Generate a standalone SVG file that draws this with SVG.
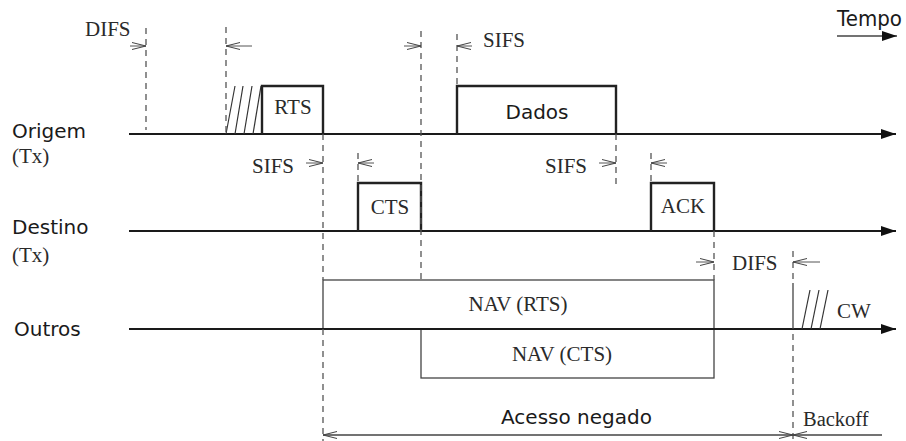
<svg xmlns="http://www.w3.org/2000/svg" width="906" height="441" viewBox="0 0 906 441">
  <defs>
    <style>
      .sans { font-family: "DejaVu Sans", "Liberation Sans", sans-serif; font-size: 20px; fill: #1a1a1a; }
      .serif { font-family: "Liberation Serif", "Times New Roman", serif; font-size: 21px; fill: #2a2a2a; }
      .mid { text-anchor: middle; }
      .axis { stroke: #1a1a1a; stroke-width: 2; fill: none; }
      .frame { stroke: #222; stroke-width: 2.4; fill: none; }
      .nav { stroke: #444; stroke-width: 1.3; fill: none; }
      .dash { stroke: #555; stroke-width: 1.3; stroke-dasharray: 6 5; fill: none; }
      .solid { stroke: #444; stroke-width: 1.3; fill: none; }
      .hatch { stroke: #333; stroke-width: 1.2; fill: none; }
      .gap { stroke: #555; stroke-width: 1; fill: none; }
    </style>
    <!-- filled head for the time axes -->
    <marker id="head" markerWidth="16" markerHeight="10" refX="15" refY="5" orient="auto" markerUnits="userSpaceOnUse">
      <path d="M0,0 L15,5 L0,10 z" fill="#111"/>
    </marker>
    <!-- open chevron for interval markers -->
    <marker id="chev" markerWidth="15" markerHeight="9" refX="14" refY="4.5" orient="auto-start-reverse" markerUnits="userSpaceOnUse">
      <path d="M0,1 L14,4.5 L0,8" fill="none" stroke="#444" stroke-width="1"/>
    </marker>
  </defs>

  <rect width="906" height="441" fill="#ffffff"/>

  <!-- time direction -->
  <g id="tempo">
    <text class="sans" x="837" y="26" style="font-size:21px" textLength="65" lengthAdjust="spacingAndGlyphs">Tempo</text>
    <line class="solid" x1="837" y1="36" x2="897" y2="36" stroke-width="1.5" marker-end="url(#head)"/>
  </g>

  <!-- station labels -->
  <g id="label-origem">
    <text class="sans" x="12" y="138">Origem</text>
    <text class="serif" x="12" y="163">(Tx)</text>
  </g>
  <g id="label-destino">
    <text class="sans" x="12" y="234">Destino</text>
    <text class="serif" x="12" y="262">(Tx)</text>
  </g>
  <g id="label-outros">
    <text class="sans" x="14" y="336">Outros</text>
  </g>

  <!-- NAV periods of the other stations -->
  <g id="nav-rts">
    <rect class="nav" x="323" y="280" width="391" height="49"/>
    <text class="serif mid" x="518" y="311">NAV (RTS)</text>
  </g>
  <g id="nav-cts">
    <rect class="nav" x="421" y="329" width="293" height="49"/>
    <text class="serif mid" x="562" y="361">NAV (CTS)</text>
  </g>

  <!-- time axes -->
  <g id="axes">
    <line class="axis" x1="129" y1="134" x2="896" y2="134" marker-end="url(#head)"/>
    <line class="axis" x1="129" y1="231" x2="896" y2="231" marker-end="url(#head)"/>
    <line class="axis" x1="129" y1="329" x2="896" y2="329" marker-end="url(#head)"/>
  </g>

  <!-- frames -->
  <g id="backoff-origem">
    <line class="hatch" x1="226" y1="134" x2="235" y2="86"/>
    <line class="hatch" x1="235" y1="134" x2="243" y2="86"/>
    <line class="hatch" x1="244" y1="134" x2="252" y2="86"/>
    <line class="hatch" x1="253" y1="134" x2="261" y2="86"/>
  </g>
  <g id="rts">
    <polyline class="frame" points="262,134 262,86 323,86 323,134"/>
    <text class="serif mid" x="293" y="114">RTS</text>
  </g>
  <g id="dados">
    <polyline class="frame" points="457,134 457,86 616,86 616,134"/>
    <text class="sans mid" x="537" y="119">Dados</text>
  </g>
  <g id="cts">
    <polyline class="frame" points="358,231 358,183 421,183 421,231"/>
    <text class="serif mid" x="390" y="214">CTS</text>
  </g>
  <g id="ack">
    <polyline class="frame" points="651,231 651,183 714,183 714,231"/>
    <text class="serif mid" x="683" y="213">ACK</text>
  </g>
  <g id="cw">
    <line class="hatch" x1="802" y1="329" x2="810" y2="290"/>
    <line class="hatch" x1="811" y1="329" x2="819" y2="290"/>
    <line class="hatch" x1="820" y1="329" x2="828" y2="290"/>
    <text class="serif" x="837" y="318">CW</text>
  </g>

  <!-- interval labels -->
  <g id="interval-labels">
    <text class="serif" x="85" y="36">DIFS</text>
    <text class="serif" x="483" y="47">SIFS</text>
    <text class="serif" x="252" y="173">SIFS</text>
    <text class="serif" x="545" y="173">SIFS</text>
    <text class="serif" x="732" y="270">DIFS</text>
    <text class="sans" x="501" y="424">Acesso negado</text>
    <text class="serif" x="803" y="426" style="font-size:20.5px">Backoff</text>
  </g>

  <!-- boundaries and interval markers -->
  <g id="connectors">
    <line class="dash" x1="146" y1="28" x2="146" y2="130"/>
    <line class="dash" x1="226" y1="27" x2="226" y2="134"/>
    <line class="dash" x1="323" y1="134" x2="323" y2="280"/>
    <line class="dash" x1="323" y1="329" x2="323" y2="441"/>
    <line class="dash" x1="421" y1="31" x2="421" y2="280"/>
    <line class="dash" x1="457" y1="34" x2="457" y2="86"/>
    <line class="dash" x1="616" y1="134" x2="616" y2="186"/>
    <line class="dash" x1="358" y1="153" x2="358" y2="183"/>
    <line class="dash" x1="651" y1="153" x2="651" y2="183"/>
    <line class="dash" x1="714" y1="231" x2="714" y2="280"/>
    <line class="dash" x1="793" y1="251" x2="793" y2="283"/>
    <line class="solid" x1="793" y1="283" x2="793" y2="329"/>
    <line class="dash" x1="793" y1="334" x2="793" y2="441"/>

    <line class="gap" x1="130" y1="46" x2="146" y2="46" marker-end="url(#chev)"/>
    <line class="gap" x1="252" y1="46" x2="226" y2="46" marker-end="url(#chev)"/>
    <line class="gap" x1="404" y1="46" x2="421" y2="46" marker-end="url(#chev)"/>
    <line class="gap" x1="472" y1="46" x2="457" y2="46" marker-end="url(#chev)"/>
    <line class="gap" x1="306" y1="163" x2="323" y2="163" marker-end="url(#chev)"/>
    <line class="gap" x1="374" y1="163" x2="358" y2="163" marker-end="url(#chev)"/>
    <line class="gap" x1="599" y1="163" x2="616" y2="163" marker-end="url(#chev)"/>
    <line class="gap" x1="667" y1="163" x2="651" y2="163" marker-end="url(#chev)"/>
    <line class="gap" x1="696" y1="262" x2="714" y2="262" marker-end="url(#chev)"/>
    <line class="gap" x1="820" y1="262" x2="793" y2="262" marker-end="url(#chev)"/>

    <line class="solid" x1="323" y1="435" x2="793" y2="435" marker-start="url(#chev)" marker-end="url(#chev)"/>
    <line class="solid" x1="882" y1="435" x2="793" y2="435" marker-end="url(#chev)"/>
  </g>
</svg>
